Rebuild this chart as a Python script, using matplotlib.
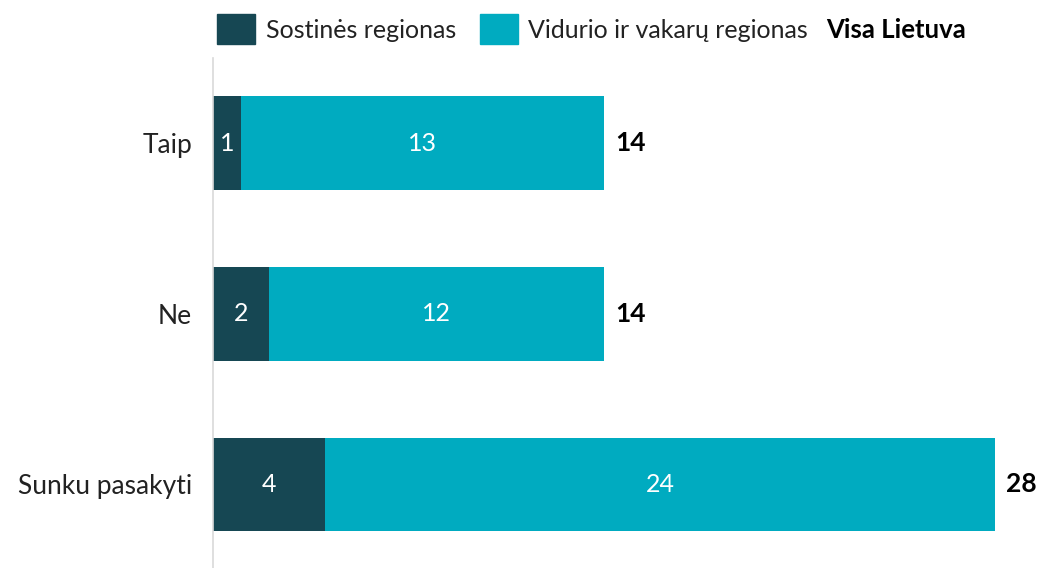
import matplotlib
matplotlib.use("Agg")
import matplotlib.pyplot as plt
from matplotlib.patches import Rectangle

plt.rcParams['font.family'] = ['Lato', 'DejaVu Sans']

categories = ["Taip", "Ne", "Sunku pasakyti"]
sostines = [1, 2, 4]
vidurio = [13, 12, 24]
visa = [14, 14, 28]
series_names = ["Sostinės regionas", "Vidurio ir vakarų regionas", "Visa Lietuva"]

dark = "#164753"
cyan = "#00ABC0"

W, H = 1038, 568
fig = plt.figure(figsize=(W / 100, H / 100), dpi=100)
ax = fig.add_axes([213 / W, 0, (1023 - 213) / W, (568 - 58) / H])

y = list(range(len(categories)))
ax.barh(y, sostines, height=0.55, color=dark)
ax.barh(y, vidurio, left=sostines, height=0.55, color=cyan)

for i in y:
    ax.text(sostines[i] / 2, i, str(sostines[i]), color="white", fontsize=18,
            ha="center", va="center")
    ax.text(sostines[i] + vidurio[i] / 2, i, str(vidurio[i]), color="white", fontsize=18,
            ha="center", va="center")
    ax.text(visa[i] + 0.4, i, str(visa[i]), color="black", fontsize=19,
            fontweight="bold", ha="left", va="center")

ax.set_xlim(0, 29)
ax.set_ylim(2.49, -0.50)
ax.set_yticks(y)
ax.set_yticklabels(categories, fontsize=19, color="#222222")
ax.tick_params(axis="y", length=0, pad=15)
ax.set_xticks([])
for s in ["top", "right", "bottom"]:
    ax.spines[s].set_visible(False)
ax.spines["left"].set_color("#d9d9d9")
ax.spines["left"].set_linewidth(1.2)

# legend drawn by hand
fig.patches.append(Rectangle((217 / W, 1 - 44 / H), 38 / W, 30 / H, color=dark,
                             transform=fig.transFigure, figure=fig))
fig.text(266 / W, 1 - 30 / H, series_names[0], fontsize=18, va="center", color="#222222")
fig.patches.append(Rectangle((480 / W, 1 - 44 / H), 38 / W, 30 / H, color=cyan,
                             transform=fig.transFigure, figure=fig))
fig.text(528 / W, 1 - 30 / H, series_names[1], fontsize=18, va="center", color="#222222")
fig.text(826 / W, 1 - 30 / H, series_names[2], fontsize=18.5, va="center",
         fontweight="bold", color="black")

fig.savefig("out.png", dpi=100)
